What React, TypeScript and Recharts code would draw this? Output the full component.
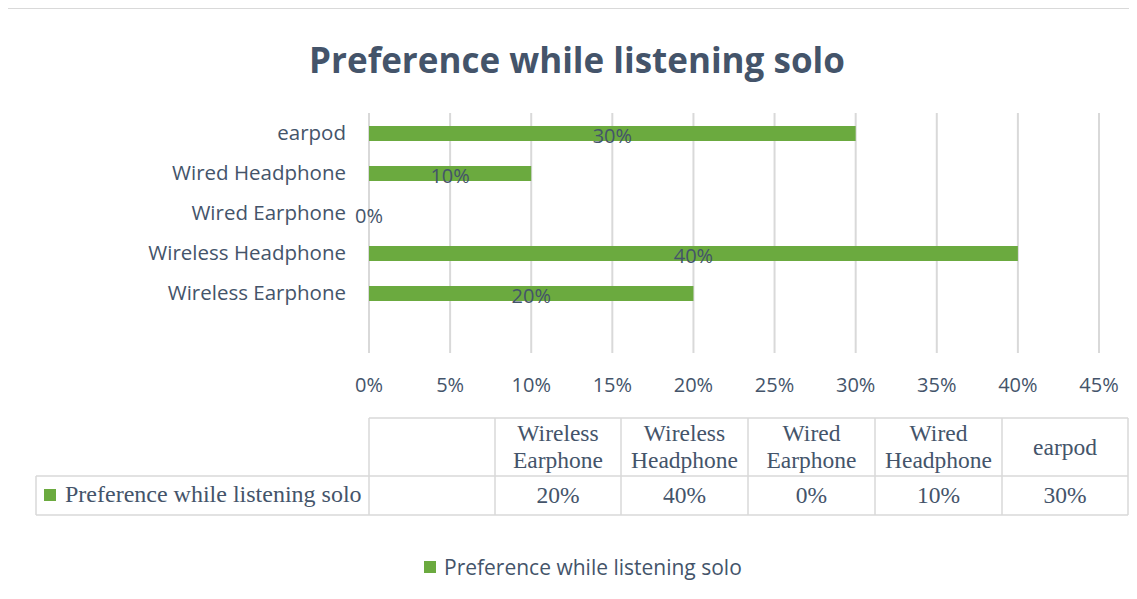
import React from "react";
import { BarChart, Bar, XAxis, YAxis, CartesianGrid, ReferenceDot } from "recharts";

const categories = ["Wireless Earphone", "Wireless Headphone", "Wired Earphone", "Wired Headphone", "earpod"];
const tableHeaders = [["Wireless", "Earphone"], ["Wireless", "Headphone"], ["Wired", "Earphone"], ["Wired", "Headphone"], ["earpod"]];
const values = [0.2, 0.4, 0, 0.1, 0.3];
const xTicks = [0, 0.05, 0.1, 0.15, 0.2, 0.25, 0.3, 0.35, 0.4, 0.45];
const seriesName = "Preference while listening solo";
const title = "Preference while listening solo";

const data = categories.map((c, i) => ({ name: c, value: values[i] }));

const TEXT = "#44546A";
const GREEN = "#6BAA3F";
const GRID = "#D9D9D9";
const SANS = "'Open Sans', sans-serif";
const SERIF = "'Liberation Serif', 'Times New Roman', serif";

const pct = (v: number) => `${Math.round(v * 100)}%`;

const YTick = (props: any) => {
  const { y, payload } = props;
  return (
    <text x={346} y={y} dy={7} textAnchor="end" fill={TEXT} fontFamily={SANS} fontSize={20.5}>
      {payload.value}
    </text>
  );
};

const XTick = (props: any) => {
  const { x, payload } = props;
  return (
    <text x={x} y={392} textAnchor="middle" fill={TEXT} fontFamily={SANS} fontSize={20}>
      {pct(payload.value)}
    </text>
  );
};

const makeLabel = (v: number) => (props: any) => {
  const vb = props.viewBox || {};
  const cx = vb.x + (vb.width || 0) / 2;
  const cy = vb.y + (vb.height || 0) / 2;
  return (
    <text x={cx} y={cy + 10} textAnchor="middle" fill={TEXT} fontFamily={SANS} fontSize={20}>
      {pct(v)}
    </text>
  );
};

const colEdges = [369, 495, 621, 748, 875, 1002, 1128];

export default function App() {
  return (
    <div style={{ position: "relative", width: 1137, height: 599, margin: -8, background: "#fff", overflow: "hidden" }}>
      <div style={{ position: "absolute", left: 0, top: 0 }}>
        <BarChart
          width={1137}
          height={599}
          data={data}
          layout="vertical"
          margin={{ top: 113, right: 38, bottom: 206, left: 0 }}
          barSize={15}
        >
          <text x={577} y={73} textAnchor="middle" fill={TEXT} fontFamily={SANS} fontWeight="bold" fontSize={35}>
            {title}
          </text>
          <CartesianGrid horizontal={false} stroke={GRID} strokeWidth={2} />
          <XAxis
            type="number"
            domain={[0, 0.45]}
            ticks={xTicks}
            axisLine={false}
            tickLine={false}
            tick={<XTick />}
            height={40}
            interval={0}
          />
          <YAxis
            type="category"
            dataKey="name"
            reversed
            width={369}
            axisLine={false}
            tickLine={false}
            tick={<YTick />}
            padding={{ top: 0, bottom: 40 }}
            interval={0}
          />
          <Bar dataKey="value" fill={GREEN} isAnimationActive={false} />
          {data.map((d) => (
            <ReferenceDot
              key={d.name}
              x={d.value / 2}
              y={d.name}
              r={1}
              shape={() => <g />}
              label={makeLabel(d.value)}
              ifOverflow="visible"
            />
          ))}
        </BarChart>
      </div>
      {/* frame, data table, legend */}
      <svg style={{ position: "absolute", left: 0, top: 0 }} width={1137} height={599}>
        <rect x={5} y={7} width={1132} height={2} fill="#D9D9D9" />
        <rect x={5} y={7} width={2} height={592} fill="#D9D9D9" />
        <g stroke={GRID} strokeWidth={1.5} fill="none">
          <line x1={369} y1={418} x2={1128} y2={418} />
          <line x1={36} y1={476} x2={1128} y2={476} />
          <line x1={36} y1={515} x2={1128} y2={515} />
          <line x1={36} y1={476} x2={36} y2={515} />
          {colEdges.map((x) => (
            <line key={x} x1={x} y1={418} x2={x} y2={515} />
          ))}
        </g>
        <rect x={44} y={489} width={12} height={12} fill={GREEN} />
        <text x={65} y={502} fill={TEXT} fontFamily={SERIF} fontSize={24}>
          {seriesName}
        </text>
        {tableHeaders.map((lines, i) => {
          const cx = (colEdges[i + 1] + colEdges[i + 2]) / 2;
          if (lines.length === 1) {
            return (
              <text key={i} x={cx} y={455} textAnchor="middle" fill={TEXT} fontFamily={SERIF} fontSize={23.5}>
                {lines[0]}
              </text>
            );
          }
          return (
            <text key={i} x={cx} textAnchor="middle" fill={TEXT} fontFamily={SERIF} fontSize={23.5}>
              <tspan x={cx} y={441}>{lines[0]}</tspan>
              <tspan x={cx} y={468}>{lines[1]}</tspan>
            </text>
          );
        })}
        {values.map((v, i) => {
          const cx = (colEdges[i + 1] + colEdges[i + 2]) / 2;
          return (
            <text key={i} x={cx} y={503} textAnchor="middle" fill={TEXT} fontFamily={SERIF} fontSize={23.5}>
              {pct(v)}
            </text>
          );
        })}
        <rect x={424} y={561} width={12} height={12} fill={GREEN} />
        <text x={444} y={575} fill={TEXT} fontFamily={SANS} fontSize={21}>
          {seriesName}
        </text>
      </svg>
    </div>
  );
}
